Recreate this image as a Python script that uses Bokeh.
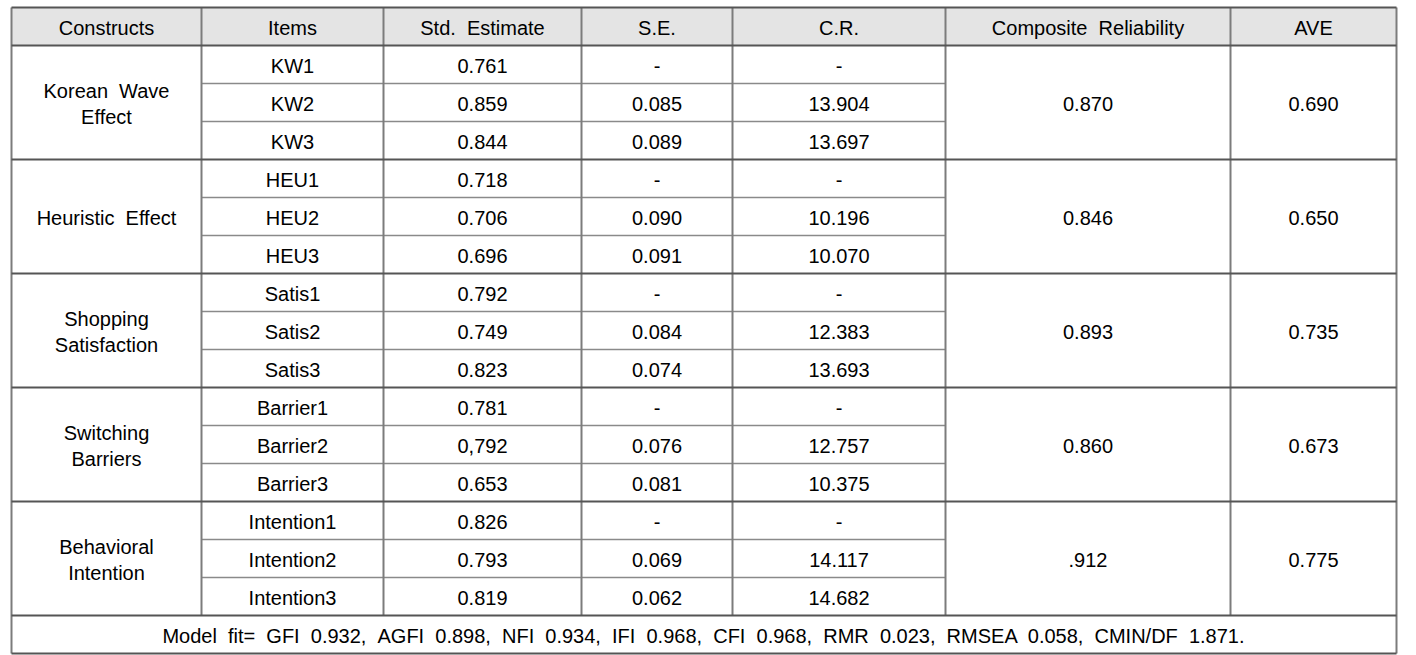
from bokeh.plotting import figure
from bokeh.models import Range1d, ColumnDataSource
from bokeh.core.properties import value
from bokeh.embed import file_html
from bokeh.resources import INLINE

# ---- data ----
headers = ["Constructs", "Items", "Std.  Estimate", "S.E.", "C.R.", "Composite  Reliability", "AVE"]
constructs = ["Korean  Wave\nEffect", "Heuristic  Effect", "Shopping\nSatisfaction", "Switching\nBarriers", "Behavioral\nIntention"]
items = ["KW1", "KW2", "KW3", "HEU1", "HEU2", "HEU3", "Satis1", "Satis2", "Satis3",
         "Barrier1", "Barrier2", "Barrier3", "Intention1", "Intention2", "Intention3"]
std_estimate = ["0.761", "0.859", "0.844", "0.718", "0.706", "0.696", "0.792", "0.749", "0.823",
                "0.781", "0,792", "0.653", "0.826", "0.793", "0.819"]
std_error = ["-", "0.085", "0.089", "-", "0.090", "0.091", "-", "0.084", "0.074",
             "-", "0.076", "0.081", "-", "0.069", "0.062"]
critical_ratio = ["-", "13.904", "13.697", "-", "10.196", "10.070", "-", "12.383", "13.693",
                  "-", "12.757", "10.375", "-", "14.117", "14.682"]
composite_reliability = ["0.870", "0.846", "0.893", "0.860", ".912"]
ave = ["0.690", "0.650", "0.735", "0.673", "0.775"]
footer = "Model  fit=  GFI  0.932,  AGFI  0.898,  NFI  0.934,  IFI  0.968,  CFI  0.968,  RMR  0.023,  RMSEA  0.058,  CMIN/DF  1.871."

# ---- layout (reference pixel coordinates) ----
col_edges = [11, 201, 383, 581, 732, 945, 1230, 1396]
top = 7
head_h = 38
row_h = 38
per_group = 3
n_rows = len(items)
data_top = top + head_h
data_bottom = data_top + n_rows * row_h
bottom = data_bottom + 38

W, H = 1416, 655
p = figure(width=W, height=H, output_backend="svg", toolbar_location=None,
           x_range=Range1d(0, W), y_range=Range1d(H, 0),
           min_border=0, outline_line_color=None)
p.axis.visible = False
p.grid.visible = False
p.background_fill_color = "white"
p.border_fill_color = "white"

FONT = value("Liberation Sans")
FS = "20px"
TC = "#000000"
DY = 1  # small downward nudge of text baseline centre

def keep_spaces(s):
    # keep the wide (double) word spacing of the original; SVG collapses plain runs of spaces
    return s.replace("  ", " \u00a0")

# header background
p.quad(left=[col_edges[0]], right=[col_edges[-1]], top=[top], bottom=[data_top],
       fill_color="#e4e4e4", line_color=None)

def centers(i):
    return (col_edges[i] + col_edges[i + 1]) / 2

tx, ty, tt = [], [], []
for i, h in enumerate(headers):
    tx.append(centers(i)); ty.append(top + head_h / 2 + DY); tt.append(keep_spaces(h))
for r in range(n_rows):
    yc = data_top + (r + 0.5) * row_h + DY
    for ci, arr in ((1, items), (2, std_estimate), (3, std_error), (4, critical_ratio)):
        tx.append(centers(ci)); ty.append(yc); tt.append(arr[r])
for g in range(len(constructs)):
    yc = data_top + (g * per_group + per_group / 2) * row_h + DY
    lines = constructs[g].split("\n")
    n = len(lines)
    for k, ln in enumerate(lines):
        tx.append(centers(0)); ty.append(yc + (k - (n - 1) / 2) * 26); tt.append(keep_spaces(ln))
    tx.append(centers(5)); ty.append(yc); tt.append(composite_reliability[g])
    tx.append(centers(6)); ty.append(yc); tt.append(ave[g])
tx.append((col_edges[0] + col_edges[-1]) / 2); ty.append((data_bottom + bottom) / 2 + DY); tt.append(keep_spaces(footer))

src = ColumnDataSource(dict(x=tx, y=ty, text=tt))
p.text(x="x", y="y", text="text", source=src, text_font=FONT, text_font_size=FS,
       text_color=TC, text_align="center", text_baseline="middle")

x0s, y0s, x1s, y1s = [], [], [], []
for r in range(1, n_rows):
    if r % per_group != 0:
        y = data_top + r * row_h
        x0s.append(col_edges[1]); x1s.append(col_edges[5]); y0s.append(y); y1s.append(y)
p.segment(x0=x0s, y0=y0s, x1=x1s, y1=y1s, line_color="#8a8a8a", line_width=1.5)

vx0, vy0, vx1, vy1 = [], [], [], []
for i, x in enumerate(col_edges):
    yb = bottom if i in (0, len(col_edges) - 1) else data_bottom
    vx0.append(x); vx1.append(x); vy0.append(top); vy1.append(yb)
p.segment(x0=vx0, y0=vy0, x1=vx1, y1=vy1, line_color="#7c7c7c", line_width=2)

hy = [top, data_top] + [data_top + g * per_group * row_h for g in range(1, len(constructs))] + [data_bottom, bottom]
p.segment(x0=[col_edges[0]] * len(hy), y0=hy, x1=[col_edges[-1]] * len(hy), y1=hy,
          line_color="#555555", line_width=2)

open("out.html", "w").write(file_html(p, INLINE))
